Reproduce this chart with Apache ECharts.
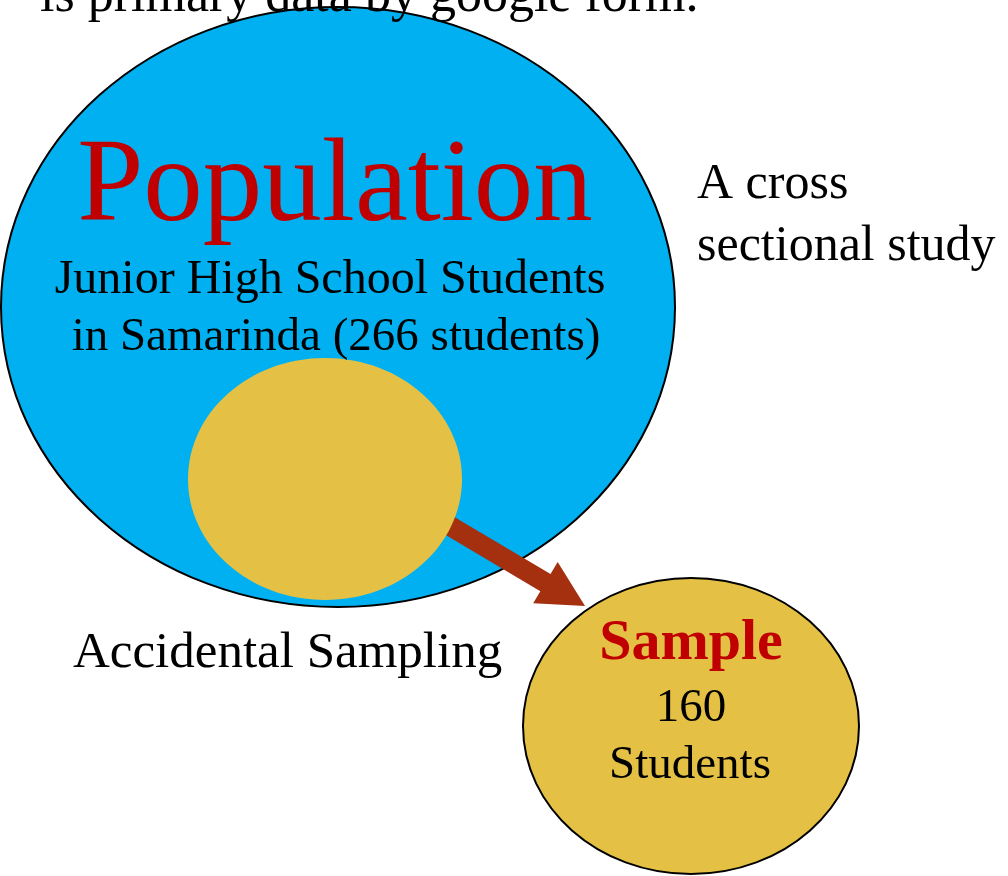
<!DOCTYPE html>
<html><head><meta charset="utf-8">
<script src="https://cdn.jsdelivr.net/npm/echarts@6/dist/echarts.min.js"></script>
<style>html,body{margin:0;padding:0;background:#fff}#c{width:1008px;height:876px}</style>
</head><body><div id="c"></div>
<script>
// ---- content ----
const populationCount = 266;
const sampleCount = 160;
const textLines = [
  'is primary data by google form.',
  'Population',
  'Junior High School Students',
  'in Samarinda (' + populationCount + ' students)',
  'A cross',
  'sectional study',
  'Accidental Sampling',
  'Sample',
  String(sampleCount),
  'Students'
];
// ---- layout (diagram units, y grows downward) ----
const textX        = [40, 335, 330, 336, 697, 697, 73, 691, 691, 690];
const textBaseline = [12, 222, 294, 351, 199, 261, 668, 660, 722, 779];
const textSize     = [52, 119, 48, 47, 50, 50, 51, 58, 47, 47];
const textAlign    = ['left','center','center','center','left','left','left','center','center','center'];
const textColor    = ['#000','#C00000','#000','#000','#000','#000','#000','#C00000','#000','#000'];
const textWeight   = ['normal','normal','normal','normal','normal','normal','normal','bold','normal','normal'];

const ellipseCX = [338, 325, 691];
const ellipseCY = [307, 479, 726];
const ellipseRX = [337, 137, 168];
const ellipseRY = [300, 121, 148];
const ellipseFill = ['#00B0F0', '#E4C145', '#E4C145'];
const ellipseStroke = ['#000', null, '#000'];

const arrowFrom = [413, 504];
const arrowTip = [585, 606];

const FONT = "'Liberation Serif','DejaVu Serif',serif";

function ellipseSeries(i, z) {
  return {
    type: 'custom', z: z, silent: true,
    data: [[ellipseCX[i], ellipseCY[i], ellipseRX[i], ellipseRY[i]]],
    encode: {x: 0, y: 1},
    renderItem: function (params, api) {
      const c = api.coord([api.value(0), api.value(1)]);
      const s = api.size([api.value(2), api.value(3)]);
      return {
        type: 'ellipse',
        shape: {cx: c[0], cy: c[1], rx: s[0], ry: s[1]},
        style: {fill: ellipseFill[i], stroke: ellipseStroke[i] || 'none', lineWidth: ellipseStroke[i] ? 2 : 0}
      };
    }
  };
}

const arrowSeries = {
  type: 'custom', z: 2, silent: true,
  data: [[arrowFrom[0], arrowFrom[1], arrowTip[0], arrowTip[1]]],
  encode: {x: [0, 2], y: [1, 3]},
  renderItem: function (params, api) {
    const a = api.coord([api.value(0), api.value(1)]);
    const b = api.coord([api.value(2), api.value(3)]);
    const dx = b[0] - a[0], dy = b[1] - a[1];
    const len = Math.sqrt(dx * dx + dy * dy);
    const ux = dx / len, uy = dy / len;
    const nx = -uy, ny = ux;
    const sw = 10, hw = 24, hl = 46;
    const bx = b[0] - ux * hl, by = b[1] - uy * hl;
    const pts = [
      [a[0] + nx * sw, a[1] + ny * sw],
      [bx + nx * sw, by + ny * sw],
      [bx + nx * hw, by + ny * hw],
      [b[0], b[1]],
      [bx - nx * hw, by - ny * hw],
      [bx - nx * sw, by - ny * sw],
      [a[0] - nx * sw, a[1] - ny * sw]
    ];
    return {type: 'polygon', shape: {points: pts}, style: {fill: '#A43010'}};
  }
};

const textData = textLines.map((t, i) => [textX[i], textBaseline[i], i]);
const textSeries = {
  type: 'custom', z: 10, silent: true,
  data: textData,
  encode: {x: 0, y: 1},
  renderItem: function (params, api) {
    const i = api.value(2);
    const p = api.coord([api.value(0), api.value(1)]);
    const size = textSize[i];
    return {
      type: 'text',
      style: {
        x: p[0], y: p[1] - 0.28 * size,
        text: textLines[i],
        font: textWeight[i] + ' ' + size + 'px ' + FONT,
        fill: textColor[i],
        align: textAlign[i],
        verticalAlign: 'middle'
      }
    };
  }
};

const chart = echarts.init(document.getElementById('c'));
chart.setOption({
  animation: false,
  backgroundColor: '#fff',
  grid: {left: 0, right: 0, top: 0, bottom: 0},
  xAxis: {type: 'value', min: 0, max: 1008, show: false},
  yAxis: {type: 'value', min: 0, max: 876, inverse: true, show: false},
  series: [
    ellipseSeries(0, 1),
    arrowSeries,
    ellipseSeries(1, 3),
    ellipseSeries(2, 4),
    textSeries
  ]
});
</script>
</body></html>
